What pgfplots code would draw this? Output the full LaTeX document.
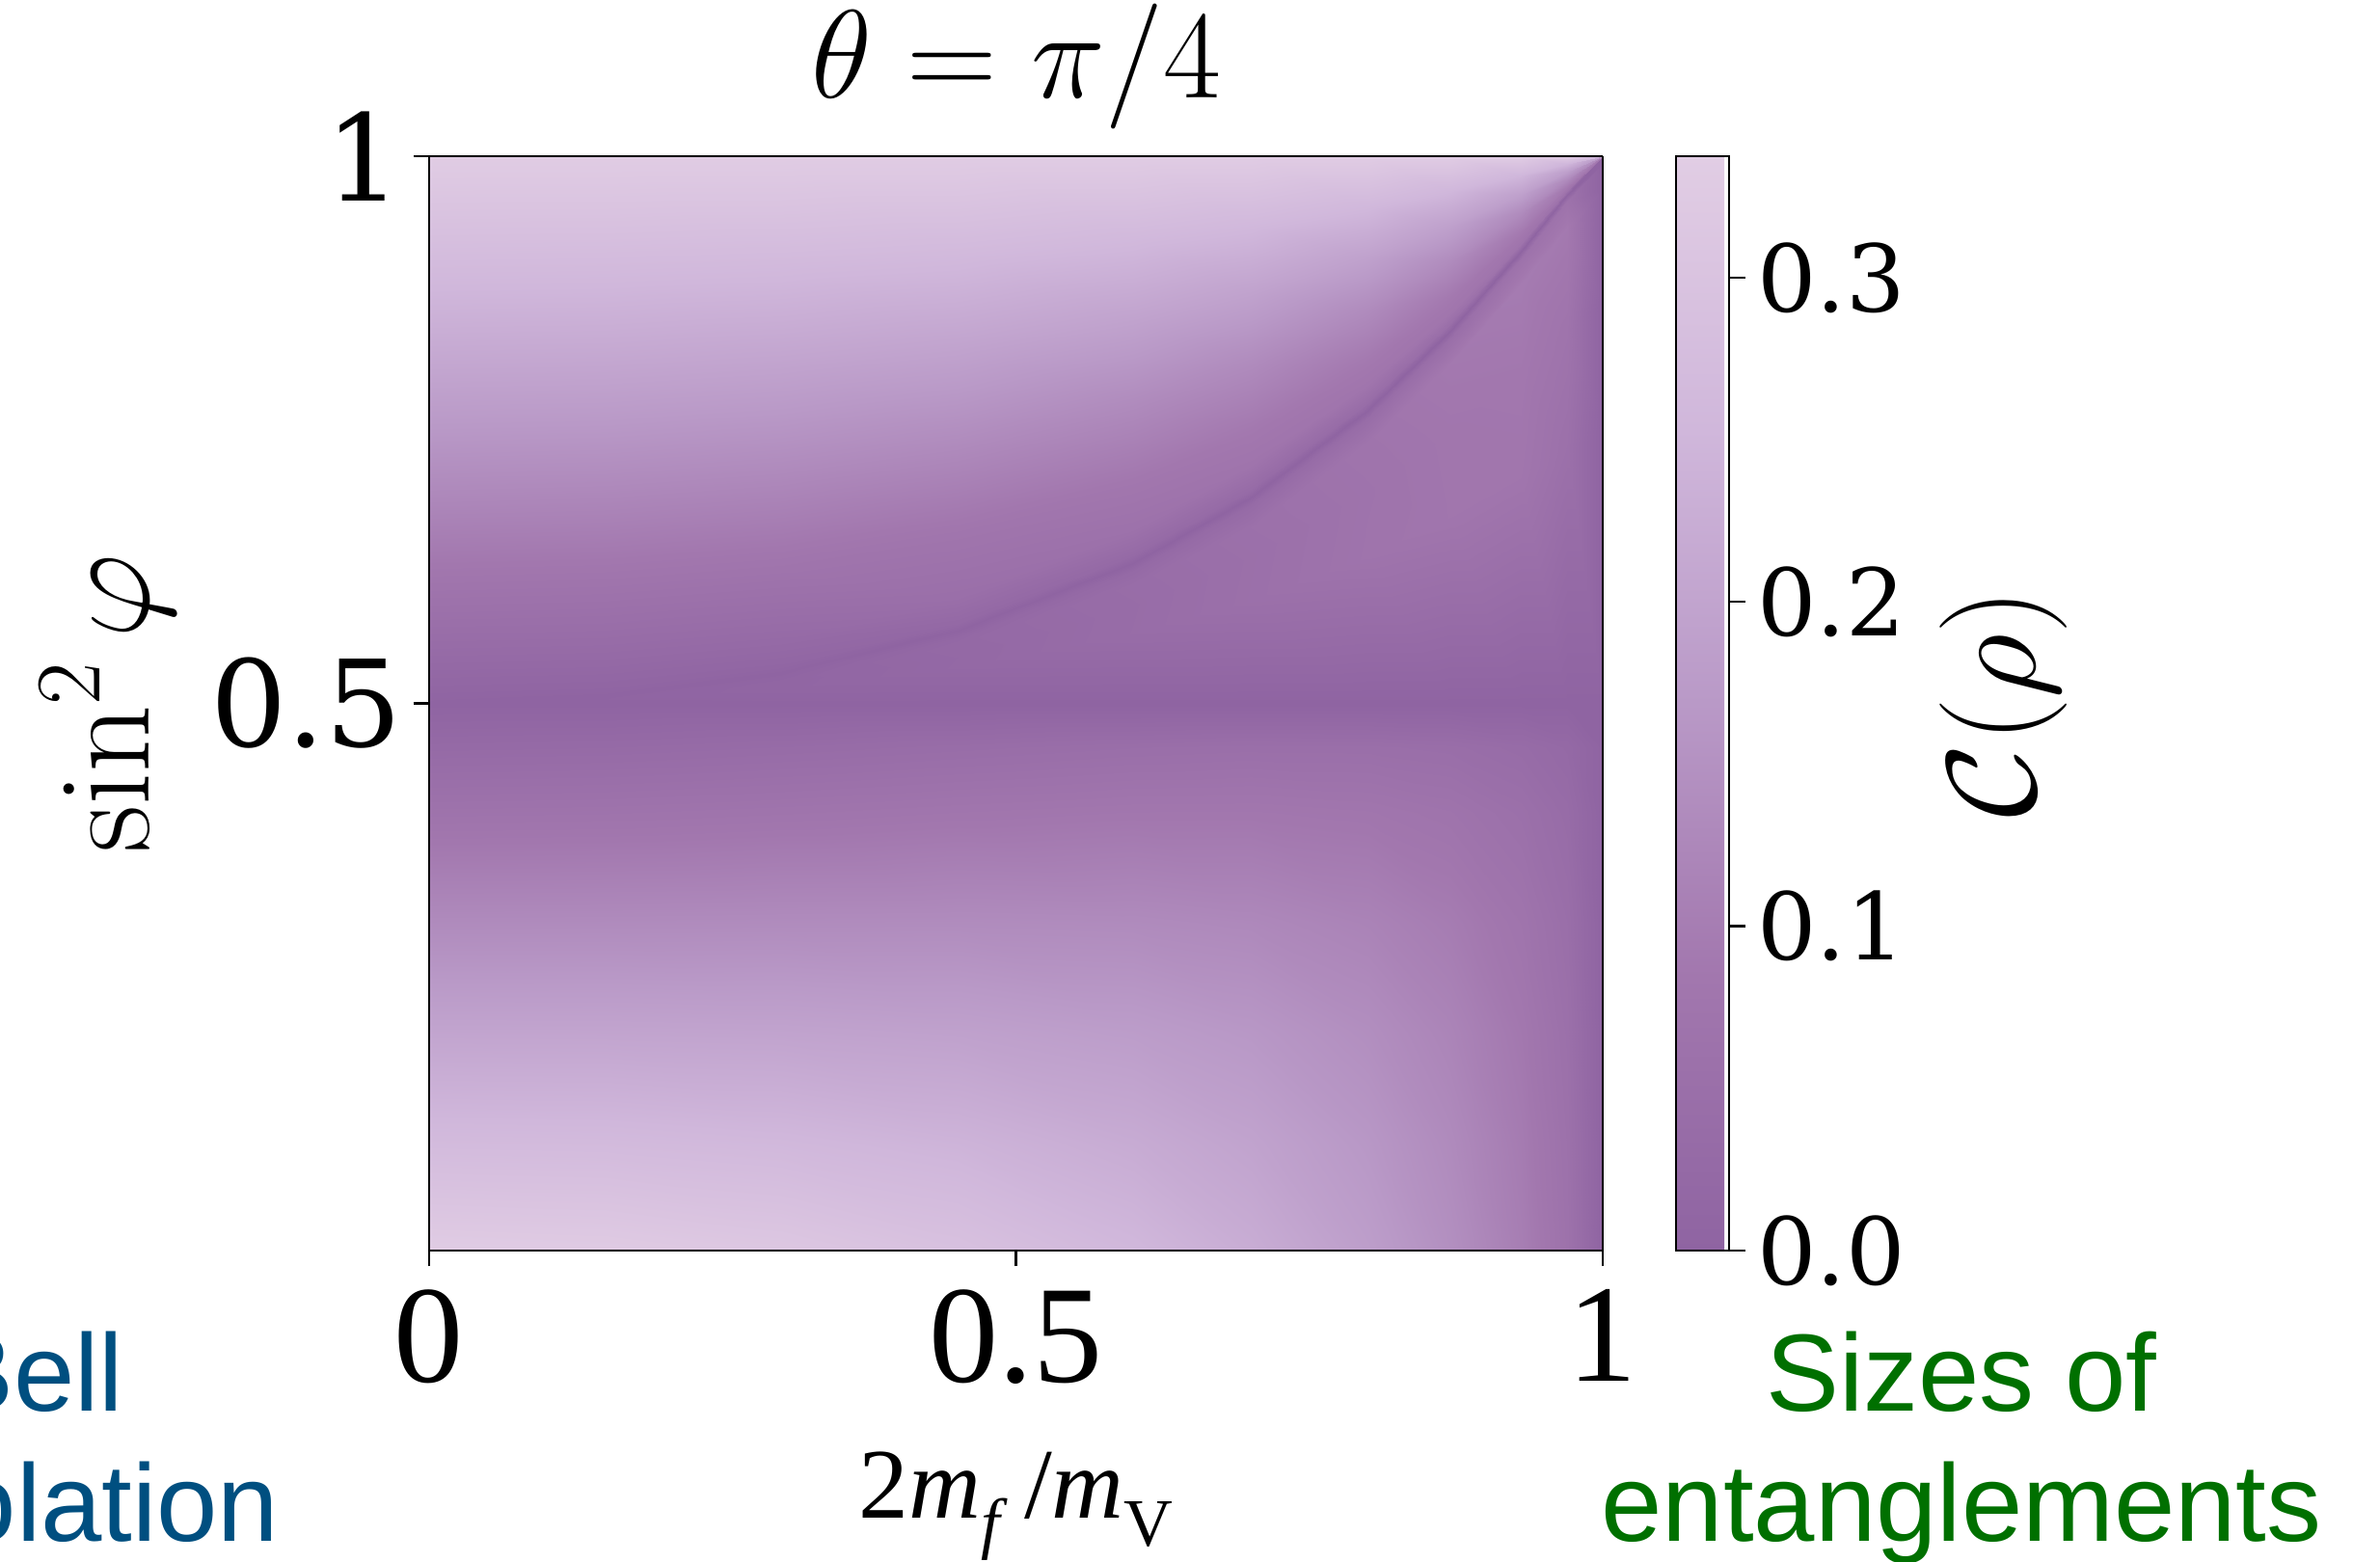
\RequirePackage{fix-cm}
\documentclass[border=0pt]{standalone}
\usepackage{fontspec}
\newfontfamily\slidefont{Liberation Sans}
\newfontfamily\dvserif{DejaVu Serif}
\newfontfamily\lserif{Liberation Serif}
\usepackage{pgfplots}
\pgfplotsset{compat=1.18}
\definecolor{bellblue}{RGB}{0,79,128}
\definecolor{entgreen}{RGB}{0,112,0}

\begin{document}
\begin{tikzpicture}
\begin{axis}[
  at={(4.45cm,-12.97cm)}, anchor=south west,
  scale only axis, width=12.17cm, height=11.35cm,
  view={0}{90},
  xmin=0, xmax=1, ymin=0, ymax=1,
  enlargelimits=false,
  axis on top,
  xtick={0,0.5,1}, ytick={0.5,1},
  xtick pos=left, ytick pos=left,
  tick align=outside, major tick length=0.16cm,
  xticklabel style={font=\lserif\fontsize{41}{42}\selectfont, yshift=-0.12cm, /pgf/number format/assume math mode=true},
  yticklabel style={font=\dvserif\fontsize{35.5}{37}\selectfont, /pgf/number format/assume math mode=true},
  axis line style={line width=0.7pt},
  every tick/.style={black, line width=0.7pt},
  title={$\theta=\pi/4$},
  title style={at={(axis description cs:0.5,1.0344)}, anchor=base, font=\fontsize{37}{40}\selectfont},
  xlabel={2\textit{m}\raisebox{-0.28em}{\fontsize{20}{20}\selectfont\textit{f}}\,/\textit{m}\raisebox{-0.28em}{\fontsize{20}{20}\selectfont V}},
  xlabel style={at={(axis description cs:0.5,-0.2441)}, anchor=base, font=\lserif\fontsize{29.5}{31}\selectfont},
  ylabel={$\sin^2\varphi$},
  ylabel style={at={(axis description cs:-0.274,0.5)}, anchor=center, font=\fontsize{39}{41}\selectfont},
  colormap={purp}{rgb255=(143,100,162) rgb255=(162,119,174) rgb255=(185,153,199) rgb255=(208,183,219) rgb255=(225,205,228)},
  point meta min=0, point meta max=0.3374,
  colorbar,
  colorbar style={
    at={(parent axis.north east)}, anchor=north west, xshift=0.46cm,
    scale only axis, width=0.55cm, height=11.35cm,
    ytick={0,0.1,0.2,0.3},
    ytick pos=right, yticklabel pos=right,
    tick align=outside, major tick length=0.17cm,
    axis line style={line width=0.7pt},
    every tick/.style={black, line width=0.7pt},
    yticklabel style={font=\dvserif\fontsize{27.5}{29}\selectfont,
      /pgf/number format/assume math mode=true,
      /pgf/number format/fixed, /pgf/number format/fixed zerofill,
      /pgf/number format/precision=1},
    ylabel={$\mathcal{C}(\rho)$},
    ylabel style={at={(axis description cs:6.18,0.5)}, anchor=center, font=\fontsize{37.5}{39}\selectfont},
  },
]
\addplot3[surf, shader=interp, point meta=explicit] table[x=x, y=y, z=c, meta=c] {
x y c
0 0 0.3333
0 0.1 0.2667
0 0.2 0.2000
0 0.3 0.1333
0 0.4 0.0667
0 0.46 0.0267
0 0.5 0
0 0.5 0
0 0.5 0
0 0.5 0
0 0.5 0
0 0.5 0
0 0.507 0.0047
0 0.53 0.0200
0 0.6 0.0667
0 0.7 0.1333
0 0.8 0.2000
0 0.9 0.2667
0 1 0.3333

0.15 0 0.3289
0.15 0.1 0.2643
0.15 0.2 0.1993
0.15 0.3 0.1339
0.15 0.4 0.0682
0.15 0.46 0.0286
0.15 0.5 0
0.15 0.5033 0.0022
0.15 0.5042 0.0021
0.15 0.5046 0.0020
0.15 0.5050 0.0019
0.15 0.5067 0
0.15 0.5137 0.0065
0.15 0.5367 0.0220
0.15 0.6054 0.0677
0.15 0.7040 0.1336
0.15 0.8027 0.1998
0.15 0.9013 0.2664
0.15 1 0.3333

0.3 0 0.3154
0.3 0.1 0.2566
0.3 0.2 0.1966
0.3 0.3 0.1353
0.3 0.4 0.0724
0.3 0.46 0.0336
0.3 0.5 0
0.3 0.5138 0.0090
0.3 0.5173 0.0087
0.3 0.5190 0.0083
0.3 0.5208 0.0078
0.3 0.5277 0
0.3 0.5347 0.0101
0.3 0.5577 0.0271
0.3 0.6221 0.0706
0.3 0.7166 0.1343
0.3 0.8111 0.1992
0.3 0.9055 0.2656
0.3 1 0.3333

0.45 0 0.2918
0.45 0.1 0.2425
0.45 0.2 0.1907
0.45 0.3 0.1361
0.45 0.4 0.0780
0.45 0.46 0.0400
0.45 0.5 0
0.45 0.5330 0.0207
0.45 0.5421 0.0200
0.45 0.5541 0.0225
0.45 0.5591 0.0179
0.45 0.5661 0
0.45 0.5731 0.0200
0.45 0.5961 0.0479
0.45 0.6529 0.0746
0.45 0.7396 0.1352
0.45 0.8264 0.1982
0.45 0.9132 0.2641
0.45 1 0.3333

0.6 0 0.2565
0.6 0.1 0.2193
0.6 0.2 0.1786
0.6 0.3 0.1336
0.6 0.4 0.0826
0.6 0.46 0.0462
0.6 0.5 0
0.6 0.5641 0.0381
0.6 0.5886 0.0370
0.6 0.6084 0.0395
0.6 0.6212 0.0251
0.6 0.6282 0
0.6 0.6352 0.0266
0.6 0.6582 0.0603
0.6 0.7025 0.0830
0.6 0.7769 0.1360
0.6 0.8513 0.1963
0.6 0.9256 0.2617
0.6 1 0.3333

0.7 0 0.2244
0.7 0.1 0.1963
0.7 0.2 0.1644
0.7 0.3 0.1275
0.7 0.4 0.0831
0.7 0.46 0.0488
0.7 0.5 0
0.7 0.5940 0.0533
0.7 0.6336 0.0520
0.7 0.6608 0.0556
0.7 0.6811 0.0304
0.7 0.6881 0
0.7 0.6951 0.0319
0.7 0.7181 0.0714
0.7 0.7505 0.0880
0.7 0.8128 0.1361
0.7 0.8752 0.1944
0.7 0.9376 0.2594
0.7 1 0.3333

0.8 0 0.1829
0.8 0.1 0.1640
0.8 0.2 0.1417
0.8 0.3 0.1143
0.8 0.4 0.0786
0.8 0.46 0.0483
0.8 0.5 0
0.8 0.6343 0.0700
0.8 0.6940 0.0680
0.8 0.7386 0.0722
0.8 0.7616 0.0378
0.8 0.7686 0
0.8 0.7756 0.0396
0.8 0.7917 0.0760
0.8 0.8149 0.0900
0.8 0.8612 0.1355
0.8 0.9074 0.1919
0.8 0.9537 0.2565
0.8 1 0.3333

0.87 0 0.1452
0.87 0.1 0.1327
0.87 0.2 0.1172
0.87 0.3 0.0973
0.87 0.4 0.0696
0.87 0.46 0.0441
0.87 0.5 0
0.87 0.6702 0.0780
0.87 0.7479 0.0800
0.87 0.8105 0.0882
0.87 0.8335 0.0466
0.87 0.8405 0
0.87 0.8475 0.0494
0.87 0.8564 0.0773
0.87 0.8724 0.0900
0.87 0.9043 0.1346
0.87 0.9362 0.1895
0.87 0.9681 0.2539
0.87 1 0.3333

0.93 0 0.1028
0.93 0.1 0.0954
0.93 0.2 0.0860
0.93 0.3 0.0732
0.93 0.4 0.0540
0.93 0.46 0.0351
0.93 0.5 0
0.93 0.7065 0.0780
0.93 0.8023 0.0850
0.93 0.8831 0.0950
0.93 0.9061 0.0631
0.93 0.9131 0
0.93 0.9201 0.0690
0.93 0.9253 0.0800
0.93 0.9305 0.0900
0.93 0.9479 0.1334
0.93 0.9652 0.1872
0.93 0.9826 0.2514
0.93 1 0.3333

0.97 0 0.0633
0.97 0.1 0.0593
0.97 0.2 0.0541
0.97 0.3 0.0467
0.97 0.4 0.0352
0.97 0.46 0.0233
0.97 0.5 0
0.97 0.7326 0.0550
0.97 0.8414 0.0700
0.97 0.9352 0.0900
0.97 0.9582 0.0650
0.97 0.9652 0
0.97 0.9687 0.0650
0.97 0.9704 0.0800
0.97 0.9722 0.0900
0.97 0.9791 0.1324
0.97 0.9861 0.1855
0.97 0.9930 0.2496
0.97 1 0.3333

1 0 0
1 0.1 0
1 0.2 0
1 0.3 0
1 0.4 0
1 0.46 0
1 0.5 0
1 0.75 0
1 0.8675 0
1 0.97 0
1 0.993 0
1 1 0
1 1 0.0650
1 1 0.0800
1 1 0.0900
1 1 0.1318
1 1 0.1844
1 1 0.2485
1 1 0.3333
};
\end{axis}

\node[anchor=base east, inner sep=0, text=bellblue, font=\slidefont\fontsize{32.4}{39}\selectfont] at (1.29,-14.63) {Bell};
\node[anchor=base east, inner sep=0, text=bellblue, font=\slidefont\fontsize{32.4}{39}\selectfont] at (2.90,-15.98) {violation};
\node[anchor=base, inner sep=0, text=entgreen, font=\slidefont\fontsize{32.4}{39}\selectfont] at (20.34,-14.63) {Sizes of};
\node[anchor=base, inner sep=0, text=entgreen, font=\slidefont\fontsize{32.4}{39}\selectfont] at (20.34,-15.98) {entanglements};

\pgfresetboundingbox
\useasboundingbox (0,0) rectangle (24.68,-16.19);
\end{tikzpicture}
\end{document}
